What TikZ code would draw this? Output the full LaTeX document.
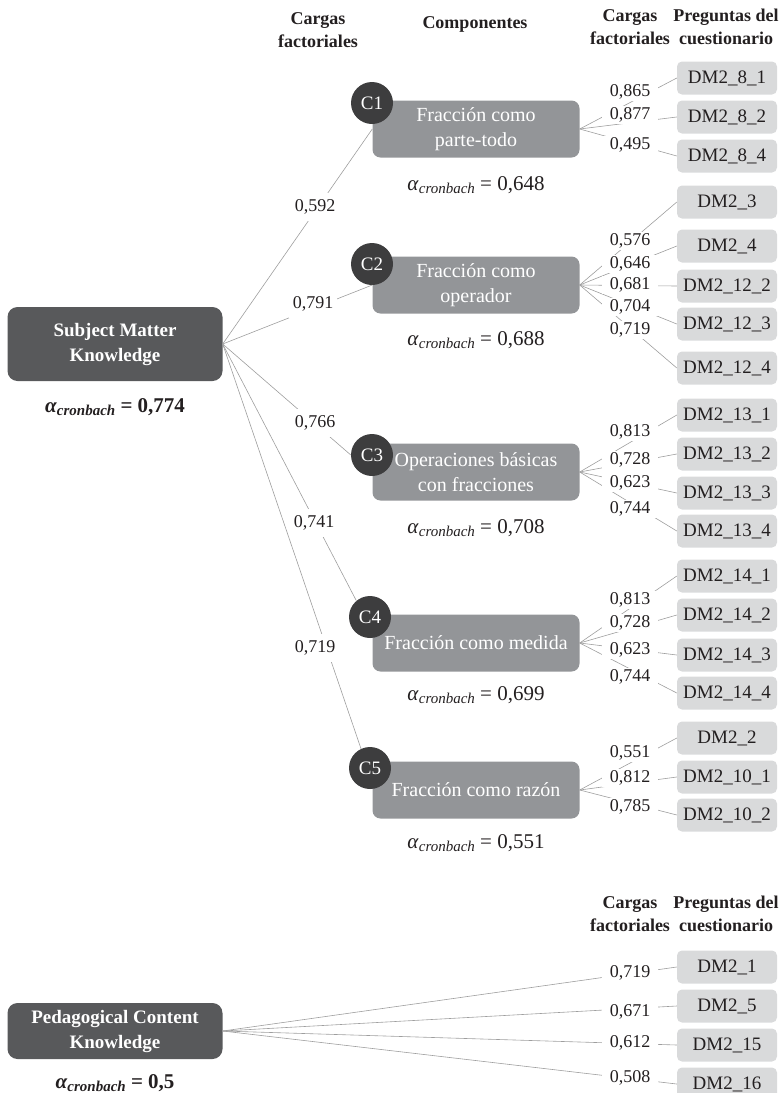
\documentclass[tikz,border=0pt]{standalone}
\usepackage{fontspec}
\setmainfont{Liberation Serif}
\usepackage{xcolor}
\usetikzlibrary{positioning}

\definecolor{knowgray}{HTML}{58595B}
\definecolor{circgray}{HTML}{3D3D3E}
\definecolor{compgray}{HTML}{939598}
\definecolor{itemgray}{HTML}{D9DADB}
\definecolor{linegray}{HTML}{9E9E9E}
\definecolor{textdark}{HTML}{231F20}

\newcommand{\alphac}[1]{\textit{α}\raisebox{-0.35ex}{\fontsize{15}{15}\selectfont\itshape cronbach} = #1}

\begin{document}
\begin{tikzpicture}[x=1pt, y=-1pt,
  link/.style={draw=linegray, line width=0.6pt},
  know/.style={rectangle, rounded corners=10pt, fill=knowgray, text=white, minimum width=215pt, align=center, font=\bfseries\fontsize{19}{25}\selectfont},
  comp/.style={rectangle, rounded corners=8pt, fill=compgray, text=white, minimum width=207pt, minimum height=57pt, align=center, font=\fontsize{20}{25}\selectfont},
  cnum/.style={circle, fill=circgray, text=white, minimum size=42pt, inner sep=0pt, font=\fontsize{19}{19}\selectfont},
  item/.style={rectangle, rounded corners=5pt, fill=itemgray, text=textdark, minimum width=100pt, minimum height=33pt, font=\fontsize{19}{19}\selectfont},
  lload/.style={fill=white, text=textdark, inner xsep=4pt, inner ysep=7pt, font=\fontsize{18}{18}\selectfont},
  rload/.style={fill=white, text=textdark, inner xsep=8pt, inner ysep=1.5pt, font=\fontsize{18}{18}\selectfont},
  cronb/.style={text=textdark, font=\fontsize{21}{21}\selectfont},
  head/.style={text=textdark, align=center, font=\bfseries\fontsize{18}{23}\selectfont}
]
\useasboundingbox (0,0) rectangle (782,1093);

\node[head] (hload) at (318,30) {Cargas\\factoriales};
\node[head] (hcomp) at (475,24) {Componentes};
\node[head] (hload2) at (630,27) {Cargas\\factoriales};
\node[head] (hitem) at (726,27) {Preguntas del\\cuestionario};

\node[know, minimum height=74pt] (smk) at (115,344) {Subject Matter\\Knowledge};
\node[cronb, font=\bfseries\fontsize{21}{21}\selectfont] (asmk) at (115,407) {\alphac{0,774}};

\node[comp] (c1) at (476,129) {Fracción como\\parte-todo};
\node[comp] (c2) at (476,285) {Fracción como\\operador};
\node[comp] (c3) at (476,472) {Operaciones básicas\\con fracciones};
\node[comp] (c4) at (476,643) {Fracción como medida};
\node[comp] (c5) at (476,790) {Fracción como razón};
\node[cnum] (k1) at (372,103) {C1};
\node[cnum] (k2) at (372,264) {C2};
\node[cnum] (k3) at (372,455) {C3};
\node[cnum] (k4) at (370,617) {C4};
\node[cnum] (k5) at (370,768) {C5};
\node[cronb] (a1) at (476,185) {\alphac{0,648}};
\node[cronb] (a2) at (476,340) {\alphac{0,688}};
\node[cronb] (a3) at (476,528) {\alphac{0,708}};
\node[cronb] (a4) at (476,695) {\alphac{0,699}};
\node[cronb] (a5) at (476,843) {\alphac{0,551}};

\node[head] (hload3) at (630,914) {Cargas\\factoriales};
\node[head] (hitem3) at (726,914) {Preguntas del\\cuestionario};
\node[know, minimum height=56pt] (pck) at (115,1031) {Pedagogical Content\\Knowledge};
\node[cronb, font=\bfseries\fontsize{21}{21}\selectfont] (apck) at (115,1083) {\alphac{0,5}};

\foreach \t in {c1.west, c2.west, k3.west, k4.130, k5.115}
  \draw[link] (smk.east) -- (\t);

\foreach \c/\n/\y/\t in {
  c1/1/78/8\_1, c1/2/117/8\_2, c1/3/156/8\_4,
  c2/4/202/3, c2/5/246/4, c2/6/286/12\_2, c2/7/324/12\_3, c2/8/368/12\_4,
  c3/9/415/13\_1, c3/10/454/13\_2, c3/11/493/13\_3, c3/12/531/13\_4,
  c4/13/576/14\_1, c4/14/615/14\_2, c4/15/655/14\_3, c4/16/693/14\_4,
  c5/17/738/2, c5/18/777/10\_1, c5/19/815/10\_2,
  pck/20/967/1, pck/21/1006/5, pck/22/1045/15, pck/23/1084/16}
{
  \node[item] (q\n) at (727,\y) {DM2\_\t};
  \draw[link] (\c.east) -- (q\n.west);
}

\foreach \n/\x/\y/\v in {1/315/207/{0,592}, 2/313/304/{0,791}, 3/315/423/{0,766}, 4/314/523/{0,741}, 5/315/648/{0,719}}
  \node[lload] (w\n) at (\x,\y) {\v};

\foreach \n/\y/\v in {
  1/92/{0,865}, 2/115/{0,877}, 3/145/{0,495},
  4/241/{0,576}, 5/264/{0,646}, 6/285/{0,681}, 7/307/{0,704}, 8/330/{0,719},
  9/432/{0,813}, 10/460/{0,728}, 11/483/{0,623}, 12/509/{0,744},
  13/600/{0,813}, 14/623/{0,728}, 15/650/{0,623}, 16/677/{0,744},
  17/753/{0,551}, 18/778/{0,812}, 19/807/{0,785},
  20/973/{0,719}, 21/1012/{0,671}, 22/1043/{0,612}, 23/1078/{0,508}}
  \node[rload] (r\n) at (630,\y) {\v};
\end{tikzpicture}
\end{document}
